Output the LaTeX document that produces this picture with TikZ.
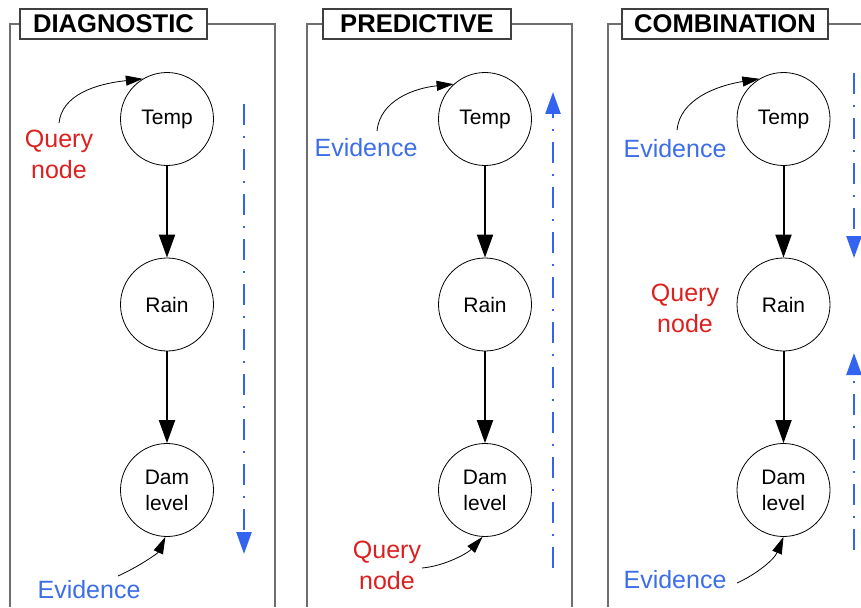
\documentclass[tikz,border=0pt]{standalone}
\usepackage{fontspec}
\setmainfont{Liberation Sans}
\usetikzlibrary{arrows.meta}
\definecolor{qred}{RGB}{220,32,32}
\definecolor{eblue}{RGB}{60,110,232}
\definecolor{abl}{RGB}{50,100,240}
\definecolor{framegray}{RGB}{110,110,110}
\tikzset{
  bn/.style={circle,draw,line width=0.8pt,minimum size=93pt,inner sep=0pt,align=center,font=\fontsize{21}{26}\selectfont},
  bigarrow/.style={line width=2pt,-{Triangle[length=23pt,width=16pt]}},
  thinarrow/.style={line width=0.8pt,-{Triangle[length=17pt,width=10pt]}},
  flow/.style={abl,line width=2.5pt,dash pattern=on 21pt off 11pt on 2pt off 11pt,-{Triangle[length=22pt,width=15pt]}},
  frameline/.style={framegray,line width=1.5pt},
  titlebox/.style={draw=black!75,fill=white,line width=1.3pt,minimum height=30pt,inner sep=0pt,font=\fontsize{25.6}{30}\selectfont\bfseries},
  qlab/.style={text=qred,align=center,font=\fontsize{25}{31}\selectfont},
  elab/.style={text=eblue,font=\fontsize{25}{31}\selectfont,anchor=base}
}
\begin{document}
\begin{tikzpicture}[x=1pt,y=-1pt]
\useasboundingbox (0,0) rectangle (861,607);
% frames
\draw[frameline] (10,607) -- (10,24) -- (275,24) -- (275,607);
\draw[frameline] (307,607) -- (307,24) -- (572,24) -- (572,607);
\draw[frameline] (608,607) -- (608,24) -- (861,24);
\node[titlebox,minimum width=187pt] (h1) at (113.5,24) {DIAGNOSTIC};
\node[titlebox,minimum width=188pt] (h2) at (417,24) {PREDICTIVE};
\node[titlebox,minimum width=206pt] (h3) at (725,24) {COMBINATION};

% ---------- panel 1 ----------
\node[bn] (t1) at (167,119) {Temp};
\node[bn] (r1) at (167,304.5) {Rain};
\node[bn] (d1) at (167,490) {Dam\\level};
\draw[bigarrow] (t1) -- (r1);
\draw[bigarrow] (r1) -- (d1);
\node[qlab] (q1) at (59,154.5) {Query\\node};
\node[elab] (e1) at (89,598) {Evidence};
\coordinate (q1s) at (59,123);
\coordinate (e1s) at (118,576);
\draw[thinarrow] (q1s) .. controls (62,95) and (95,84) .. (t1.121);
\draw[thinarrow] (e1s) .. controls (140,566) and (158,553) .. (d1.268);
\coordinate (f1a) at (244,104);
\coordinate (f1b) at (244,554);
\draw[flow] (f1a) -- (f1b);

% ---------- panel 2 ----------
\node[bn] (t2) at (485,119) {Temp};
\node[bn] (r2) at (485,304.5) {Rain};
\node[bn] (d2) at (485,490) {Dam\\level};
\draw[bigarrow] (t2) -- (r2);
\draw[bigarrow] (r2) -- (d2);
\node[elab] (e2) at (366,156) {Evidence};
\node[qlab] (q2) at (387,565.5) {Query\\node};
\coordinate (e2s) at (377,131);
\coordinate (q2s) at (422,568);
\draw[thinarrow] (e2s) .. controls (380,100) and (415,88) .. (t2.132);
\draw[thinarrow] (q2s) .. controls (445,566) and (468,553) .. (d2.267);
\coordinate (f2a) at (553,568);
\coordinate (f2b) at (553,92);
\draw[flow] (f2a) -- (f2b);

% ---------- panel 3 ----------
\node[bn] (t3) at (783.5,119) {Temp};
\node[bn] (r3) at (783.5,304.5) {Rain};
\node[bn] (d3) at (783.5,490) {Dam\\level};
\draw[bigarrow] (t3) -- (r3);
\draw[bigarrow] (r3) -- (d3);
\node[elab] (e3) at (675,157) {Evidence};
\node[qlab] (q3) at (685,308) {Query\\node};
\node[elab] (e4) at (675,588) {Evidence};
\coordinate (e3s) at (677,130);
\coordinate (e4s) at (737,583);
\draw[thinarrow] (e3s) .. controls (680,100) and (715,86) .. (t3.121);
\draw[thinarrow] (e4s) .. controls (755,575) and (774,560) .. (d3.270);
\coordinate (f3a) at (854,73);
\coordinate (f3b) at (854,258);
\coordinate (f3c) at (854,550);
\coordinate (f3d) at (854,353);
\draw[flow] (f3a) -- (f3b);
\draw[flow] (f3c) -- (f3d);
\end{tikzpicture}
\end{document}
